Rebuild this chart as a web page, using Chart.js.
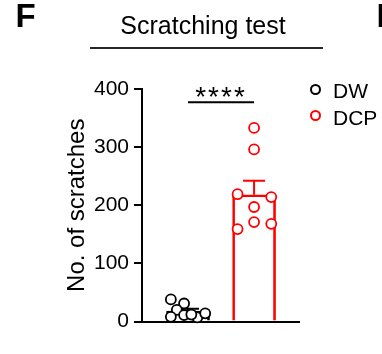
<!DOCTYPE html>
<html>
<head>
<meta charset="utf-8">
<script src="https://cdn.jsdelivr.net/npm/chart.js@4.4.1/dist/chart.umd.min.js"></script>
<style>
    body { margin: 0; background: #fff; }
    #wrap { position: relative; width: 382px; height: 354px; font-family: "Liberation Sans", Arial, sans-serif; color: #000; }
    #wrap div.txt { position: absolute; line-height: 1; white-space: nowrap; }
    .dot { position: absolute; width: 7px; height: 7px; border-radius: 50%; border: 2px solid #000; box-sizing: content-box; }
</style>
</head>
<body>
<div id="wrap">
    <canvas id="chart" width="382" height="354"></canvas>
    <div class="txt" style="left:15.5px; top:-1px; font-size:33px; font-weight:bold;">F</div>
    <div class="txt" style="left:376.5px; top:-1px; font-size:33px; font-weight:bold;">H</div>
    <div class="txt" style="left:203px; top:12.8px; font-size:25px; transform:translateX(-50%);">Scratching test</div>
    <div style="position:absolute; left:90px; top:46.7px; width:233px; height:2px; background:#2b2523;"></div>
    <div class="txt" id="stars" style="left:221px; top:83px; font-size:28px; letter-spacing:2px; transform:translateX(-50%);">****</div>
    <div class="dot" style="left:309.5px; top:83.5px;"></div>
    <div class="txt" style="left:333px; top:80px; font-size:21px;">DW</div>
    <div class="dot" style="left:309.5px; top:110px; border-color:#f00;"></div>
    <div class="txt" style="left:333px; top:107px; font-size:21px;">DCP</div>
</div>
<script>
const groups = ["DW", "DCP"];
const groupX = [1, 2];
const means = [18, 218];
const sems = [4, 24];
const dwValues = [38, 31, 20, 8, 11, 7, 14, 12];
const dwJitter = [-0.26, -0.06, -0.17, -0.26, -0.06, 0.14, 0.26, 0.05];
const dcpValues = [333, 296, 219, 214, 197, 171, 159, 168];
const dcpJitter = [0, 0, -0.25, 0.26, 0, 0, -0.25, 0.26];
const yTicks = [0, 100, 200, 300, 400];
const sigY = 377;

const colors = ["#000000", "#ff0000"];

function points(values, jitter, x) {
    return values.map((v, i) => ({ x: x + jitter[i], y: v }));
}

const datasets = [];

datasets.push({
    type: "bar",
    label: "mean",
    data: groupX.map((x, i) => ({ x: x, y: means[i] })),
    borderColor: colors,
    backgroundColor: "rgba(255,255,255,0)",
    borderWidth: 2,
    barThickness: 43,
    order: 3
});

// error bars (upper half only, like the original)
groupX.forEach((x, i) => {
    const top = means[i] + sems[i];
    datasets.push({
        type: "line",
        data: [{ x: x, y: means[i] }, { x: x, y: top }],
        borderColor: colors[i], borderWidth: 2, pointRadius: 0, order: 2
    });
    datasets.push({
        type: "line",
        data: [{ x: x - 0.167, y: top }, { x: x + 0.167, y: top }],
        borderColor: colors[i], borderWidth: 2, pointRadius: 0, order: 2
    });
});

datasets.push({
    type: "line",
    data: [{ x: groupX[0], y: sigY }, { x: groupX[1], y: sigY }],
    borderColor: "#000", borderWidth: 2, pointRadius: 0, order: 2
});

datasets.push({
    type: "scatter",
    label: groups[0],
    data: points(dwValues, dwJitter, groupX[0]),
    borderColor: colors[0], backgroundColor: "#fff",
    pointRadius: 5, borderWidth: 1.8, clip: false, order: 1
});
datasets.push({
    type: "scatter",
    label: groups[1],
    data: points(dcpValues, dcpJitter, groupX[1]),
    borderColor: colors[1], backgroundColor: "#fff",
    pointRadius: 5, borderWidth: 1.8, clip: false, order: 1
});

const ctx = document.getElementById("chart").getContext("2d");
new Chart(ctx, {
    type: "bar",
    data: { datasets: datasets },
    options: {
        responsive: false,
        animation: false,
        layout: { padding: { left: 62.6, right: 83, top: 89, bottom: 32.5 } },
        plugins: { legend: { display: false }, tooltip: { enabled: false } },
        scales: {
            x: {
                type: "linear",
                offset: false,
                min: 0.303,
                max: 2.68,
                ticks: { display: false },
                grid: { display: false, drawTicks: false, offset: false },
                border: { display: true, color: "#000", width: 2 }
            },
            y: {
                min: yTicks[0],
                max: yTicks[yTicks.length - 1],
                afterBuildTicks: s => { s.ticks = yTicks.map(v => ({ value: v })); },
                afterFit: s => { s.width = 79.4; },
                ticks: { color: "#000", font: { family: "Liberation Sans", size: 21 }, padding: 5 },
                grid: { drawOnChartArea: false, drawTicks: true, tickLength: 8, color: "#000", lineWidth: 2 },
                border: { color: "#000", width: 2 },
                title: {
                    display: true,
                    text: "No. of scratches",
                    color: "#000",
                    font: { family: "Liberation Sans", size: 24 },
                    padding: 0
                }
            }
        }
    }
});
</script>
</body>
</html>
